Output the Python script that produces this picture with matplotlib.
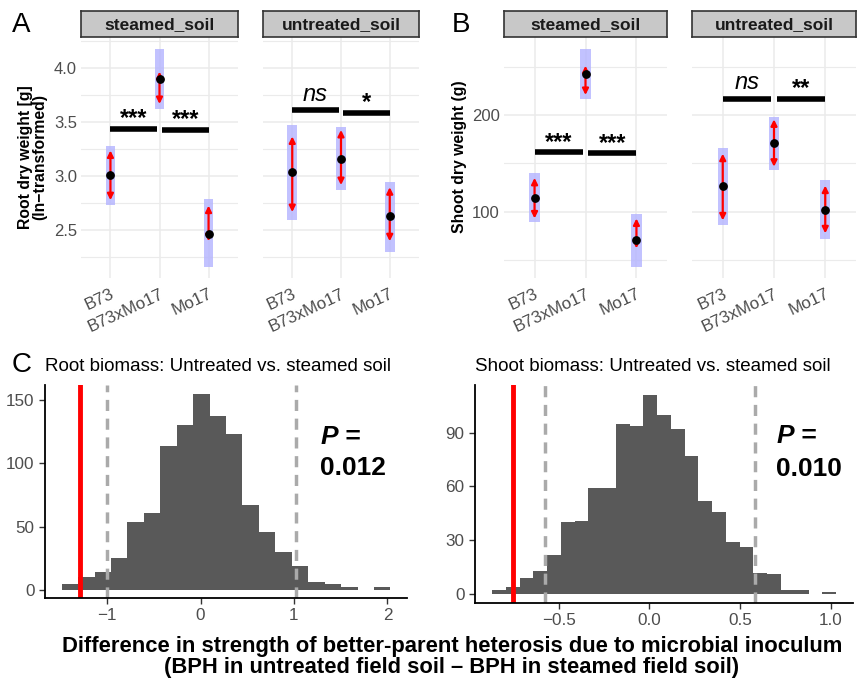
import matplotlib.pyplot as plt
import matplotlib.transforms as mtransforms
import numpy as np
from matplotlib.ticker import MultipleLocator

plt.rcParams['font.family'] = ['Liberation Sans', 'DejaVu Sans']

genotypes = ['B73', 'B73xMo17', 'Mo17']

# root dry weight (ln-transformed): mean, shaded interval, arrow interval
root_mean = {'steamed_soil': [3.01, 3.90, 2.47], 'untreated_soil': [3.04, 3.16, 2.63]}
root_band_lo = {'steamed_soil': [2.74, 3.62, 2.16], 'untreated_soil': [2.60, 2.87, 2.30]}
root_band_hi = {'steamed_soil': [3.28, 4.18, 2.79], 'untreated_soil': [3.48, 3.46, 2.95]}
root_arr_lo = {'steamed_soil': [2.78, 3.67, 2.40], 'untreated_soil': [2.67, 2.92, 2.40]}
root_arr_hi = {'steamed_soil': [3.24, 3.97, 2.73], 'untreated_soil': [3.37, 3.43, 2.90]}
root_sig = {'steamed_soil': ['***', '***'], 'untreated_soil': ['ns', '*']}
root_sig_y = {'steamed_soil': [3.44, 3.43], 'untreated_soil': [3.61, 3.59]}

# shoot dry weight (g)
shoot_mean = {'steamed_soil': [114.5, 242.8, 70.3], 'untreated_soil': [126.2, 170.7, 101.7]}
shoot_band_lo = {'steamed_soil': [89.7, 217, 42.4], 'untreated_soil': [85.9, 143, 71.4]}
shoot_band_hi = {'steamed_soil': [139.7, 268, 97.6], 'untreated_soil': [166, 198, 132.4]}
shoot_arr_lo = {'steamed_soil': [93, 220.7, 62], 'untreated_soil': [91, 146.5, 77.6]}
shoot_arr_hi = {'steamed_soil': [135, 251, 93], 'untreated_soil': [160, 195.5, 127]}
shoot_sig = {'steamed_soil': ['***', '***'], 'untreated_soil': ['ns', '**']}
shoot_sig_y = {'steamed_soil': [161.4, 160.3], 'untreated_soil': [217, 217]}

# permutation histograms
root_bin_start, root_bin_width = -1.487, 0.176
root_counts = [5, 10, 14, 25, 54, 61, 114, 130, 155, 137, 123, 67, 46, 30, 19, 6, 5, 2, 0, 2]
root_observed = -1.29
root_ci = [-0.998, 1.027]
root_p = '0.012'

shoot_bin_start, shoot_bin_width = -0.868, 0.0759
shoot_counts = [2, 4, 9, 13, 22, 40, 41, 59, 59, 95, 94, 111, 100, 92, 77, 52, 46,
                29, 26, 12, 11, 2, 2, 0, 1]
shoot_observed = -0.755
shoot_ci = [-0.577, 0.585]
shoot_p = '0.010'

W, H = 860, 686
fig = plt.figure(figsize=(W / 100, H / 100), dpi=100)


def add_ax(x0, y0, x1, y1):
    return fig.add_axes([x0 / W, 1 - y1 / H, (x1 - x0) / W, (y1 - y0) / H])


def strip(x0, x1, label):
    s = add_ax(x0, 11, x1, 37)
    s.set_facecolor('#C8C8C8')
    s.set_xticks([])
    s.set_yticks([])
    for sp in s.spines.values():
        sp.set_linewidth(1.2)
        sp.set_color('#333333')
    s.text(0.5, 0.47, label, ha='center', va='center', fontsize=12.5,
           fontweight='bold', color='#1A1A1A', transform=s.transAxes)


def facet(x0, x1, soil, mean, blo, bhi, alo, ahi, sig, sig_y, ylim, major, minor,
          show_y):
    ax = add_ax(x0, 37, x1, 278)
    strip(x0, x1, soil)
    xs = np.arange(len(genotypes))
    ax.set_xlim(-0.6, 2.6)
    ax.set_ylim(*ylim)
    ax.yaxis.set_major_locator(MultipleLocator(major))
    ax.yaxis.set_minor_locator(MultipleLocator(minor))
    ax.grid(True, which='major', color='#EBEBEB', lw=1.1)
    ax.grid(True, which='minor', axis='y', color='#EBEBEB', lw=0.8)
    ax.set_axisbelow(True)
    for sp in ax.spines.values():
        sp.set_visible(False)
    ax.tick_params(which='both', length=0)
    ax.set_xticks(xs)
    ax.set_xticklabels(genotypes, rotation=25, ha='right', rotation_mode='anchor',
                       fontsize=12.3, color='#4D4D4D')
    shift = mtransforms.ScaledTranslation(5 / 100, 0, fig.dpi_scale_trans)
    for lab in ax.get_xticklabels():
        lab.set_transform(lab.get_transform() + shift)
    ax.tick_params(axis='x', pad=6)
    if show_y:
        ax.tick_params(axis='y', labelsize=12, labelcolor='#4D4D4D', pad=3)
    else:
        ax.tick_params(axis='y', labelleft=False)
    for i in xs:
        ax.bar(i, bhi[i] - blo[i], bottom=blo[i], width=0.2, color='#B3B3FF',
               alpha=0.8, zorder=2)
        ax.annotate('', xy=(i, ahi[i]), xytext=(i, alo[i]),
                    arrowprops=dict(arrowstyle='<|-|>', color='red', lw=1.6,
                                    mutation_scale=9, shrinkA=0, shrinkB=0),
                    zorder=3)
    ax.scatter(xs, mean, s=28, color='black', zorder=4)
    spans = [(0.0, 0.95), (1.05, 2.0)]
    for (a, b), lab, yv in zip(spans, sig, sig_y):
        ax.plot([a, b], [yv, yv], color='black', lw=4, solid_capstyle='butt', zorder=3)
        if lab == 'ns':
            ax.annotate(lab, ((a + b) / 2, yv), xytext=(0, 3), textcoords='offset points',
                        ha='center', va='bottom', fontsize=17, style='italic')
        else:
            ax.annotate(lab, ((a + b) / 2, yv), xytext=(0, -1), textcoords='offset points',
                        ha='center', va='bottom', fontsize=17, fontweight='bold')
    return ax


for soil, x0, x1 in [('steamed_soil', 81, 238), ('untreated_soil', 263, 419)]:
    facet(x0, x1, soil, root_mean[soil], root_band_lo[soil], root_band_hi[soil],
          root_arr_lo[soil], root_arr_hi[soil], root_sig[soil], root_sig_y[soil],
          (2.06, 4.29), 0.5, 0.25, soil == 'steamed_soil')

for soil, x0, x1 in [('steamed_soil', 504, 667), ('untreated_soil', 692, 856)]:
    facet(x0, x1, soil, shoot_mean[soil], shoot_band_lo[soil], shoot_band_hi[soil],
          shoot_arr_lo[soil], shoot_arr_hi[soil], shoot_sig[soil], shoot_sig_y[soil],
          (31.4, 280.7), 100, 50, soil == 'steamed_soil')

fig.text(33 / W, 1 - 157 / H, 'Root dry weight [g]\n(ln\u2212transformed)', rotation=90,
         ha='center', va='center', fontsize=11.3, fontweight='bold', linespacing=0.95)
fig.text(459 / W, 1 - 157 / H, 'Shoot dry weight (g)', rotation=90,
         ha='center', va='center', fontsize=11.3, fontweight='bold')


def hist(x0, x1, y1, start, width, counts, observed, ci, p, p_xy, xlim, ylim,
         yticks, xticks, xticklabels, title):
    ax = add_ax(x0, 385, x1, y1)
    edges = start + width * np.arange(len(counts))
    ax.bar(edges, counts, width=width, align='edge', color='#595959', lw=0)
    ax.axvline(observed, color='red', lw=3.5)
    for c in ci:
        ax.axvline(c, color='#AAAAAA', lw=2.5, ls=(0, (3.2, 2.2)))
    ax.set_xlim(*xlim)
    ax.set_ylim(*ylim)
    ax.set_yticks(yticks)
    ax.set_xticks(xticks)
    ax.set_xticklabels(xticklabels)
    for s in ['top', 'right']:
        ax.spines[s].set_visible(False)
    for s in ['left', 'bottom']:
        ax.spines[s].set_linewidth(1.3)
    ax.tick_params(labelsize=12.3, labelcolor='#4D4D4D', length=4, width=1, color='#333333')
    ax.set_title(title, loc='left', fontsize=13.5, pad=10)
    px, py1, py2 = p_xy
    t = ax.text(px, py1, 'P', fontsize=19, fontweight='bold', style='italic',
                va='center', ha='left')
    ax.annotate(' =', (1, 0.5), xycoords=t, va='center', ha='left', fontsize=19,
                fontweight='bold')
    ax.text(px, py2, p, fontsize=19, fontweight='bold', va='center', ha='left')
    return ax


hist(45, 407, 598, root_bin_start, root_bin_width, root_counts, root_observed, root_ci,
     root_p, (1.28, 121, 96), (-1.665, 2.21), (-6.3, 161.8), [0, 50, 100, 150],
     [-1, 0, 1, 2], ['\u22121', '0', '1', '2'], 'Root biomass: Untreated vs. steamed soil')
hist(475, 853, 603, shoot_bin_start, shoot_bin_width, shoot_counts, shoot_observed,
     shoot_ci, shoot_p, (0.70, 88, 70), (-0.962, 1.123), (-5, 116.6), [0, 30, 60, 90],
     [-0.5, 0.0, 0.5, 1.0], ['\u22120.5', '0.0', '0.5', '1.0'],
     'Shoot biomass: Untreated vs. steamed soil')

fig.text(452 / W, 1 - 657 / H,
         'Difference in strength of better-parent heterosis due to microbial inoculum\n'
         '(BPH in untreated field soil \u2013 BPH in steamed field soil)',
         ha='center', va='center', fontsize=15.8, fontweight='bold', linespacing=1.05)

fig.text(12 / W, 1 - 25 / H, 'A', fontsize=20, va='center', ha='left')
fig.text(452 / W, 1 - 25 / H, 'B', fontsize=20, va='center', ha='left')
fig.text(12 / W, 1 - 365 / H, 'C', fontsize=20, va='center', ha='left')

fig.savefig('out.png', dpi=100)
